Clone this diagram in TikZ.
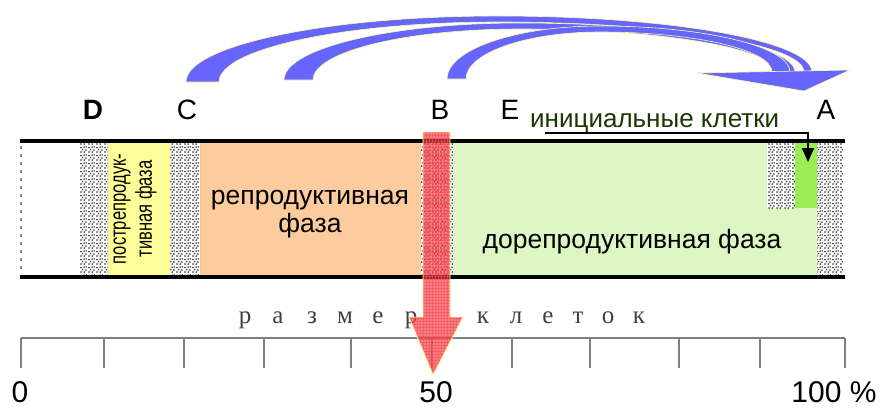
\documentclass[tikz,border=0pt]{standalone}
\usepackage{fontspec}
\setmainfont{Liberation Sans}
\newfontfamily\scalefont{Liberation Serif}
\usetikzlibrary{patterns,patterns.meta,arrows.meta}
\definecolor{peach}{RGB}{252,204,158}
\definecolor{paleyel}{RGB}{255,255,153}
\definecolor{palegreen}{RGB}{222,246,196}
\definecolor{brightgreen}{RGB}{153,238,85}
\definecolor{arcblue}{RGB}{102,102,255}
\definecolor{arrowred}{RGB}{240,60,75}
\definecolor{axisgray}{RGB}{128,128,128}
\definecolor{labgreen}{RGB}{25,55,0}
\tikzdeclarepattern{
  name=stippledots,
  type=uncolored,
  bounding box={(0pt,0pt) and (8pt,8pt)},
  tile size={(8pt,8pt)},
  code={
    \fill (1.1pt,1.2pt) circle (1pt);
    \fill (4.6pt,1.1pt) circle (1pt);
    \fill (2.8pt,3.8pt) circle (1pt);
    \fill (6.4pt,3.3pt) circle (1pt);
    \fill (1.1pt,6.1pt) circle (1pt);
    \fill (4.5pt,6.5pt) circle (1pt);
    \fill (6.9pt,6.8pt) circle (0.9pt);
  }
}
\begin{document}
\begin{tikzpicture}[x=1pt,y=-1pt,
  stip/.style={pattern=stippledots, pattern color=black!85},
  band/.style={fill=arcblue, draw=yellow!35, line width=0.6pt},
  letter/.style={font=\fontsize{28}{30}\selectfont, anchor=base, inner sep=0pt},
  phase/.style={font=\fontsize{26.5}{28}\selectfont, align=center, inner sep=0pt},
  ticknum/.style={font=\fontsize{30}{32}\selectfont, inner sep=0pt},
  scaletxt/.style={font=\scalefont\fontsize{25}{26}\selectfont, text=black!75, anchor=base, inner sep=0pt},
  blackrule/.style={line width=4pt, black},
  axisline/.style={axisgray, line width=1.4pt},
  cellbox/.style={inner sep=0pt, anchor=north west, draw=none}]
\useasboundingbox (0,0) rectangle (882,408);

% ---- phase fills ----
\fill[paleyel] (108,143) rectangle (170,275);
\fill[peach] (200,143) rectangle (421,275);
\fill[palegreen] (453,143) rectangle (817,275);
\fill[stip] (80,143) rectangle (108,275);
\fill[stip] (170,143) rectangle (200,275);
\fill[stip] (421,143) rectangle (453,275);
\fill[white] (767,143) rectangle (795,208);
\fill[stip] (767,143) rectangle (795,208);
\fill[stip] (817,143) rectangle (843,275);
\node[cellbox, fill=brightgreen, minimum width=22pt, minimum height=65pt] (init) at (795,143) {};
\draw[axisgray, line width=1.5pt, dash pattern=on 3pt off 5pt] (21,146) -- (21,273);

% ---- black rules ----
\draw[blackrule] (20,141) -- (845,141);
\draw[blackrule] (20,277) -- (845,277);

% ---- phase texts ----
\node[rotate=90, xscale=0.72, font=\fontsize{23}{26}\selectfont, align=center, inner sep=0pt] (post) at (135,209) {пострепродук-\\тивная фаза};
\node[phase] (repr) at (310,214) {репродуктивная\\фаза};
\node[phase] (prerepr) at (632,242) {дорепродуктивная фаза};

% ---- letters ----
\node[letter, font=\bfseries\fontsize{28}{30}\selectfont] (D) at (93,119) {D};
\node[letter] (C) at (187,119) {C};
\node[letter] (B) at (440,119) {B};
\node[letter] (E) at (510,119) {E};
\node[letter] (A) at (826,119) {A};

% ---- initial cells label and pointer ----
\node[font=\fontsize{26}{28}\selectfont, text=labgreen, anchor=base west, inner sep=0pt] (initlbl) at (530,127) {инициальные клетки};
\coordinate (ulstart) at (545,133);
\coordinate (tipend) at (808,162);
\draw[black, line width=1.8pt, -{Triangle[length=14pt,width=12pt]}] (ulstart) -| (tipend);

% ---- size scale ----
\foreach \ch/\xx [count=\i] in {р/245,а/278,з/312,м/345,е/378,р/411,к/483,л/516,е/548,т/578,о/608,к/639}
  \node[scaletxt] (s\i) at (\xx,323) {\ch};
\draw[axisline] (21,338) -- (845,338);
\foreach \tx [count=\i] in {21,104,184,264,351,432,512,590,679,760,845}
  \draw[axisline] (\tx,338) -- (\tx,368);
\node[ticknum] (n0) at (20,392) {0};
\node[ticknum] (n50) at (436,392) {50};
\node[ticknum] (n100) at (834,392) {100 \%};

% ---- red arrow ----
\fill[arrowred, fill opacity=0.65] (423,132) -- (450,132) -- (450,317) -- (463,317) -- (433,375) -- (409,317) -- (423,317) -- cycle;
\fill[pattern=grid, pattern color=red!70!white, opacity=0.6] (423,132) -- (450,132) -- (450,317) -- (463,317) -- (433,375) -- (409,317) -- (423,317) -- cycle;
\draw[yellow!40, line width=0.8pt] (423,132) -- (450,132) -- (450,317) -- (463,317) -- (433,375) -- (409,317) -- (423,317) -- cycle;

% ---- blue arcs ----
\filldraw[band] (186,82) .. controls (186,45.6) and (325.8,16) .. (498,16)
  .. controls (671.3,16) and (812,41.1) .. (812,72) -- (804,72)
  .. controls (804,44.4) and (666.9,22) .. (498,22)
  .. controls (344,22) and (219,48.9) .. (219,82) -- cycle;
\filldraw[band] (284,80) .. controls (284,48.5) and (389.7,23) .. (520,23)
  .. controls (671.8,23) and (795,45) .. (795,72) -- (775,72)
  .. controls (775,48.3) and (660.8,29) .. (520,29)
  .. controls (405.7,29) and (313,51.8) .. (313,80) -- cycle;
\filldraw[band] (447,79) .. controls (447,49.7) and (515.5,26) .. (600,26)
  .. controls (704.9,26) and (790,46.6) .. (790,72) -- (772,72)
  .. controls (772,49.9) and (694.9,32) .. (600,32)
  .. controls (526,32) and (466,53.1) .. (466,79) -- cycle;
\filldraw[band] (697,73) -- (850,70) -- (804,91) -- cycle;
\end{tikzpicture}
\end{document}
